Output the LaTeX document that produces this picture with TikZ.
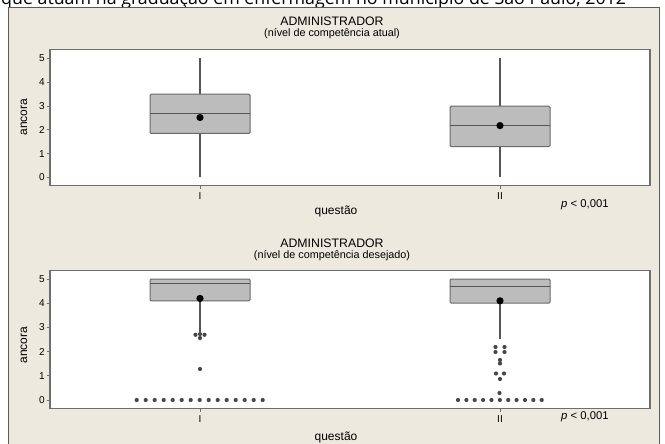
\documentclass[tikz,border=0pt]{standalone}
\usepackage{fontspec}
\setmainfont{Liberation Sans}
\newfontfamily\capfont{Open Sans}
\definecolor{bgc}{HTML}{EEE9DE}
\definecolor{framec}{HTML}{5A5A5A}
\definecolor{axc}{HTML}{6E6E6E}
\definecolor{boxf}{HTML}{BCBCBC}
\definecolor{boxd}{HTML}{6A6A6A}
\definecolor{outc}{HTML}{474747}
\tikzset{
  axisline/.style={draw=axc, line width=1.1pt},
  tickline/.style={draw=axc, line width=0.8pt},
  boxshape/.style={draw=boxd, fill=boxf, line width=1pt, rounded corners=1.2pt},
  medline/.style={draw=boxd!80!black, line width=1pt},
  whisk/.style={draw=boxd!80!black, line width=1.1pt},
  ticklab/.style={font=\fontsize{10}{10}\selectfont, inner sep=0pt},
  titlelab/.style={font=\fontsize{12.3}{12}\selectfont, inner sep=0pt},
  sublab/.style={font=\fontsize{10.8}{11}\selectfont, inner sep=0pt},
  axlab/.style={font=\fontsize{12}{12}\selectfont, inner sep=0pt},
  plab/.style={font=\fontsize{11.3}{11}\selectfont, inner sep=0pt},
}
% #1 x centre, #2 q3 (top), #3 q1 (bottom), #4 median, #5 mean, #6 whisker top, #7 whisker bottom
\newcommand{\myboxplot}[7]{%
  \draw[whisk] (#1,#6) -- (#1,#2);
  \draw[whisk] (#1,#3) -- (#1,#7);
  \draw[boxshape] (#1-50,#2) rectangle (#1+50,#3);
  \draw[medline] (#1-50,#4) -- (#1+50,#4);
  \fill[black] (#1,#5) circle (3.6);
}
\newcommand{\outpt}[2]{\fill[outc] (#1,#2) circle (2.1);}
\begin{document}
\begin{tikzpicture}[x=1pt,y=-1pt]
\useasboundingbox (0,0) rectangle (665,444);
\clip (0,0) rectangle (665,444);
\fill[white] (0,0) rectangle (665,444);
% caption (cut at the top, as in the reference)
\node[anchor=base west, font=\capfont\fontsize{17.8}{18}\selectfont, inner sep=0pt] (cap) at (1,5)
  {que atuam na graduação em enfermagem no município de São Paulo, 2012};
% frame
\draw[framec, fill=bgc, line width=1pt] (8.5,8) rectangle (659,460);

% ================= TOP PANEL =================
\node[titlelab] (t1) at (332,21.5) {ADMINISTRADOR};
\node[sublab] (s1) at (332,34) {(nível de competência atual)};
\fill[white] (50,49.3) rectangle (650,185.5);
\draw[axisline] (50,49.3) rectangle (650,185.5);
\foreach \v in {0,...,5} {
  \pgfmathsetmacro{\yy}{177.5-23.8*\v}
  \draw[tickline] (46.5,\yy) -- (50,\yy);
  \node[ticklab, anchor=east] (ya\v) at (45,\yy) {\v};
}
\draw[tickline] (200,185.5) -- (200,189);
\draw[tickline] (500,185.5) -- (500,189);
\node[ticklab] (xa1) at (200,196.5) {I};
\node[ticklab] (xa2) at (500,196.5) {II};
\node[axlab] (q1) at (336,211.5) {questão};
\node[plab, anchor=west] (p1) at (561,205) {\textit{p} < 0,001};
\node[axlab, rotate=90] (an1) at (24,117) {ancora};
\myboxplot{200}{94.2}{133.5}{113.2}{117.5}{58.5}{177}
\myboxplot{500}{106.1}{146.6}{125.1}{125.6}{58.5}{177}

% ================= BOTTOM PANEL =================
\node[titlelab] (t2) at (332,243) {ADMINISTRADOR};
\node[sublab] (s2) at (332,255.5) {(nível de competência desejado)};
\fill[white] (50,270.7) rectangle (650,408.3);
\draw[axisline] (50,270.7) rectangle (650,408.3);
\foreach \v in {0,...,5} {
  \pgfmathsetmacro{\yy}{400-24.2*\v}
  \draw[tickline] (46.5,\yy) -- (50,\yy);
  \node[ticklab, anchor=east] (yb\v) at (45,\yy) {\v};
}
\draw[tickline] (200,408.3) -- (200,412);
\draw[tickline] (500,408.3) -- (500,412);
\node[ticklab] (xb1) at (200,419) {I};
\node[ticklab] (xb2) at (500,419) {II};
\node[axlab] (q2) at (336,437) {questão};
\node[plab, anchor=west] (p2) at (561,417) {\textit{p} < 0,001};
\node[axlab, rotate=90] (an2) at (24,345) {ancora};
% outliers, question I
\foreach \i in {0,...,14} { \outpt{136.7+9*\i}{400} }
\outpt{195.5}{334.8}\outpt{204.5}{334.8}\outpt{200}{334}\outpt{200}{338}
\outpt{200}{369}
% outliers, question II
\foreach \i in {0,...,10} { \outpt{458+8.37*\i}{400} }
\outpt{495.5}{347}\outpt{504.5}{347}\outpt{495.5}{352}\outpt{504.5}{352}
\outpt{500}{360}\outpt{500}{363.5}
\outpt{496}{373.5}\outpt{504}{373.5}\outpt{500}{379}
\outpt{499.5}{393}
\myboxplot{200}{279}{300.8}{283.8}{298.4}{279}{334}
\myboxplot{500}{279}{303.2}{286.3}{300.8}{279}{339}
\end{tikzpicture}
\end{document}
